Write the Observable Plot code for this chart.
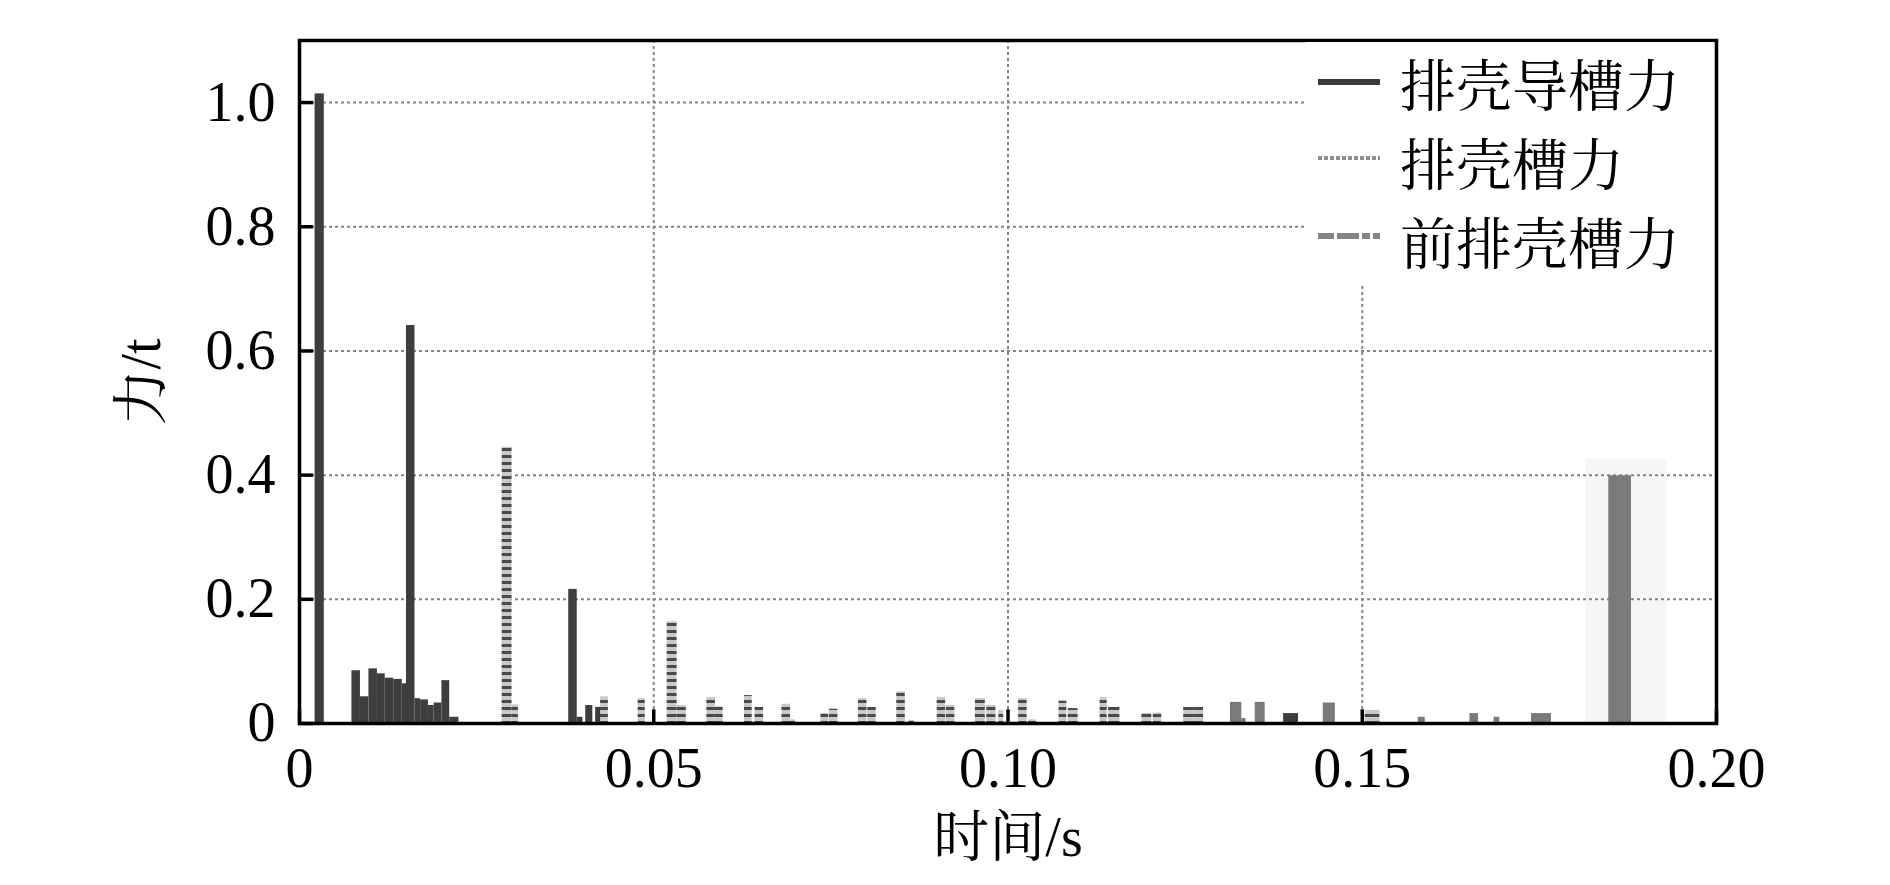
<!DOCTYPE html>
<html><head><meta charset="utf-8">
<script src="https://cdn.jsdelivr.net/npm/d3@7"></script>
<script src="https://cdn.jsdelivr.net/npm/@observablehq/plot@0.6"></script>
<style>
body{margin:0;background:#fff;}
#wrap{position:relative;width:1890px;height:885px;overflow:hidden;}
#legend{position:absolute;left:1305px;top:42px;}
</style></head><body><div id="wrap"></div>
<script>
const seriesNames = ["排壳导槽力", "排壳槽力", "前排壳槽力"];
const xTicks = [0, 0.05, 0.10, 0.15, 0.20];
const yTicks = [0, 0.2, 0.4, 0.6, 0.8, 1.0];
const xLabel = "时间/s";
const yLabel = "力/t";
// each entry: [start time (s), end time (s), peak force (t)]
const guideForce = [
  [0.0022, 0.0035, 1.014],
  [0.0074, 0.0086, 0.085],
  [0.0086, 0.0098, 0.043],
  [0.0098, 0.0110, 0.088],
  [0.0110, 0.0121, 0.080],
  [0.0121, 0.0133, 0.073],
  [0.0133, 0.0145, 0.071],
  [0.0145, 0.0151, 0.064],
  [0.0151, 0.0163, 0.641],
  [0.0163, 0.0171, 0.040],
  [0.0171, 0.0182, 0.038],
  [0.0182, 0.0190, 0.029],
  [0.0190, 0.0201, 0.033],
  [0.0201, 0.0212, 0.069],
  [0.0212, 0.0225, 0.010],
  [0.0380, 0.0392, 0.216],
  [0.0392, 0.0400, 0.010],
  [0.0404, 0.0414, 0.029],
  [0.0418, 0.0426, 0.026],
  [0.1389, 0.1410, 0.016]
];
const shellForce = [
  [0.0286, 0.0300, 0.445],
  [0.0300, 0.0309, 0.030],
  [0.0425, 0.0436, 0.043],
  [0.0478, 0.0488, 0.040],
  [0.0519, 0.0533, 0.164],
  [0.0533, 0.0546, 0.029],
  [0.0575, 0.0587, 0.042],
  [0.0587, 0.0598, 0.027],
  [0.0628, 0.0639, 0.045],
  [0.0643, 0.0655, 0.026],
  [0.0681, 0.0693, 0.031],
  [0.0693, 0.0700, 0.006],
  [0.0736, 0.0747, 0.016],
  [0.0748, 0.0760, 0.023],
  [0.0789, 0.0801, 0.040],
  [0.0802, 0.0814, 0.026],
  [0.0843, 0.0855, 0.051],
  [0.0860, 0.0868, 0.005],
  [0.0900, 0.0912, 0.042],
  [0.0913, 0.0925, 0.029],
  [0.0954, 0.0968, 0.040],
  [0.0970, 0.0983, 0.029],
  [0.0987, 0.0994, 0.021],
  [0.1015, 0.1027, 0.040],
  [0.1029, 0.1040, 0.006],
  [0.1072, 0.1083, 0.036],
  [0.1085, 0.1099, 0.024],
  [0.1130, 0.1140, 0.042],
  [0.1142, 0.1158, 0.026],
  [0.1189, 0.1203, 0.016],
  [0.1205, 0.1217, 0.017],
  [0.1248, 0.1262, 0.026],
  [0.1262, 0.1276, 0.026],
  [0.1504, 0.1525, 0.021]
];
const frontForce = [
  [0.1314, 0.1330, 0.034],
  [0.1330, 0.1336, 0.008],
  [0.1349, 0.1363, 0.034],
  [0.1445, 0.1462, 0.033],
  [0.1579, 0.1589, 0.010],
  [0.1652, 0.1664, 0.016],
  [0.1686, 0.1694, 0.010],
  [0.1739, 0.1767, 0.016],
  [0.1848, 0.1880, 0.399]
];
// faint blur around the large front-shell peak
const frontHalo = [
  [0.1815, 0.1930, 0.425]
];

const FONT = "'Liberation Serif', 'Noto Serif CJK SC', 'Noto Sans CJK SC', serif";
const fmtX = d => d === 0 ? "0" : d.toFixed(2);
const fmtY = d => d === 0 ? "0" : d.toFixed(1);
const bar = (data, fill) => Plot.rect(data, {x1: d => d[0], x2: d => d[1], y1: 0, y2: d => d[2], fill});

const chart = Plot.plot({
  width: 1890, height: 885,
  marginLeft: 299, marginRight: 174, marginTop: 40, marginBottom: 162,
  style: {fontFamily: FONT, fontSize: "56px", background: "#fff", color: "#000"},
  x: {domain: [0, 0.2]},
  y: {domain: [0, 1.1]},
  marks: [
    bar(frontHalo, "#f6f6f6"),
    Plot.ruleY(yTicks.filter(d => d > 0), {stroke: "#858585", strokeWidth: 2, strokeDasharray: "3,3"}),
    Plot.ruleX(xTicks.filter(d => d > 0 && d < 0.2), {stroke: "#858585", strokeWidth: 2, strokeDasharray: "3,3"}),
    bar(guideForce, "#3e3e3e"),
    bar(shellForce, "url(#dotfill)"),
    bar(frontForce, "#7a7a7a"),
    Plot.ruleY(yTicks, {x1: 0, x2: 0.002, stroke: "#000", strokeWidth: 3.5}),
    Plot.ruleX(xTicks, {y1: 0, y2: 0.022, stroke: "#000", strokeWidth: 3.5}),
    Plot.frame({stroke: "#000", strokeWidth: 3.5}),
    Plot.axisX({ticks: xTicks, tickFormat: fmtX, tickSize: 0, tickPadding: 24, fontSize: 56, label: null, fill: "#000"}),
    Plot.axisY({ticks: yTicks, tickFormat: fmtY, tickSize: 0, tickPadding: 24, fontSize: 56, label: null, fill: "#000"}),
    Plot.text([yLabel], {text: d => d, frameAnchor: "left", dx: -157, rotate: -90, textAnchor: "middle", lineAnchor: "middle", fontSize: 56, fill: "#000"}),
    Plot.text([xLabel], {text: d => d, frameAnchor: "bottom", dy: 115, textAnchor: "middle", lineAnchor: "middle", fontSize: 56, fill: "#000"})
  ]
});

// dotted-fill pattern for the 排壳槽力 series
const svgSel = d3.select(chart);
const defs = svgSel.insert("defs", ":first-child");
const pat = defs.append("pattern").attr("id", "dotfill").attr("patternUnits", "userSpaceOnUse")
  .attr("width", 8).attr("height", 7);
pat.append("rect").attr("width", 8).attr("height", 7).attr("fill", "#c9c9c9");
pat.append("rect").attr("width", 8).attr("height", 3).attr("fill", "#4a4a4a");

const wrap = document.getElementById("wrap");
wrap.appendChild(chart);

// legend overlay (inside plot frame, top-right, white box)
const lg = d3.select(wrap).append("svg").attr("id", "legend")
  .attr("width", 409).attr("height", 243)
  .style("font-family", FONT);
lg.append("rect").attr("width", 409).attr("height", 243).attr("fill", "#fff");
const rows = [
  {name: seriesNames[0], lineY: 40, textY: 45, stroke: "#3a3a3a", w: 6, dash: null},
  {name: seriesNames[1], lineY: 116, textY: 124, stroke: "#8e8e8e", w: 4, dash: "4,2"},
  {name: seriesNames[2], lineY: 194, textY: 203, stroke: "#858585", w: 6, dash: "16,3,22,3,8,3"}
];
rows.forEach(r => {
  const ln = lg.append("line").attr("x1", 13).attr("x2", 75).attr("y1", r.lineY).attr("y2", r.lineY)
    .attr("stroke", r.stroke).attr("stroke-width", r.w);
  if (r.dash) ln.attr("stroke-dasharray", r.dash);
  lg.append("text").attr("x", 95).attr("y", r.textY).attr("dominant-baseline", "central")
    .attr("font-size", 56).attr("fill", "#000").text(r.name);
});
</script></body></html>
